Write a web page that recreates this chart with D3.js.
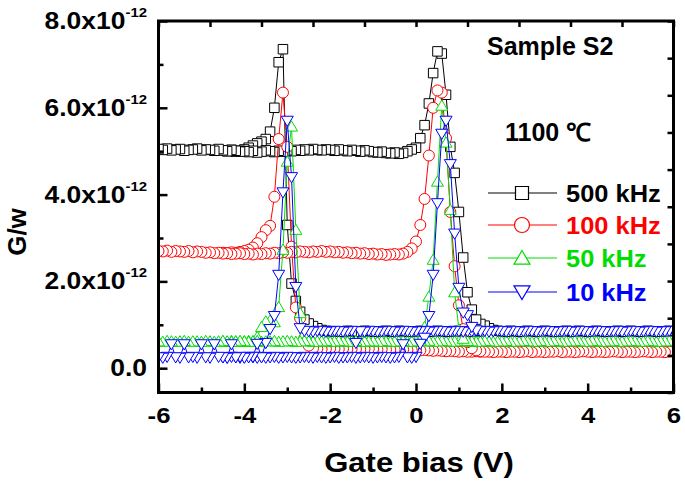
<!DOCTYPE html>
<html><head><meta charset="utf-8">
<script src="https://cdn.jsdelivr.net/npm/d3@7"></script>
<style>body{margin:0;background:#fff}svg{display:block}</style>
</head><body>
<svg id="chart" width="685" height="488"></svg>
<script>
// ---------- DATA (G/w in units of 1e-12) ----------
// Up-sweep branch: gate bias from -6 V to +6 V, 0.1 V step
const upStart = -6, upStep = 0.1;
const up500 = [
5.05,5.03,5.06,5.02,5.04,5.05,5.01,5.03,5.04,5.06,
5.02,5.04,5.03,5.01,5.05,5.02,5.00,5.03,5.01,4.99,
5.00,4.98,5.01,4.97,4.99,5.02,5.00,4.98,5.01,4.99,
5.02,5.00,5.03,5.01,5.04,5.02,5.05,5.03,5.02,5.04,
5.03,5.01,5.04,5.02,5.00,5.03,5.01,4.99,5.02,5.00,
4.98,4.97,4.99,4.96,4.95,4.97,4.94,4.96,5.00,5.04,
5.08,5.30,5.60,6.10,6.80,7.30,7.25,6.30,5.10,4.50,
3.60,2.55,1.75,1.35,1.12,1.02,0.98,0.92,0.88,0.86,
0.85,0.84,0.86,0.85,0.84,0.85,0.86,0.85,0.84,0.85,
0.86,0.85,0.84,0.85,0.85,0.86,0.84,0.85,0.86,0.85,
0.84,0.85,0.86,0.85,0.84,0.85,0.85,0.86,0.84,0.85,
0.86,0.85,0.84,0.85,0.86,0.85,0.84,0.85,0.85,0.86,
0.85];
const up100 = [
2.70,2.69,2.71,2.68,2.70,2.69,2.68,2.70,2.67,2.69,
2.68,2.66,2.67,2.65,2.66,2.64,2.65,2.63,2.64,2.65,
2.63,2.64,2.62,2.64,2.63,2.65,2.64,2.66,2.65,2.67,
2.66,2.68,2.67,2.69,2.68,2.67,2.69,2.68,2.70,2.68,
2.69,2.67,2.68,2.66,2.67,2.65,2.66,2.64,2.65,2.63,
2.64,2.62,2.63,2.61,2.62,2.63,2.62,2.64,2.68,2.76,
2.92,3.30,3.90,4.90,6.00,6.40,6.35,5.30,3.60,2.35,
1.45,0.90,0.60,0.46,0.41,0.39,0.38,0.38,0.37,0.38,
0.38,0.37,0.38,0.38,0.37,0.38,0.39,0.37,0.38,0.38,
0.37,0.38,0.38,0.39,0.37,0.38,0.38,0.37,0.38,0.39,
0.38,0.37,0.38,0.38,0.37,0.38,0.39,0.38,0.37,0.38,
0.38,0.37,0.38,0.39,0.38,0.37,0.38,0.38,0.37,0.38,
0.38];
const up50 = [
0.62,0.61,0.63,0.62,0.61,0.62,0.63,0.61,0.62,0.62,
0.61,0.63,0.62,0.61,0.62,0.63,0.62,0.61,0.62,0.63,
0.62,0.61,0.62,0.63,0.61,0.62,0.62,0.63,0.61,0.62,
0.63,0.62,0.61,0.62,0.63,0.62,0.61,0.62,0.62,0.63,
0.61,0.62,0.63,0.62,0.61,0.62,0.63,0.61,0.62,0.62,
0.62,0.61,0.63,0.62,0.61,0.62,0.62,0.63,0.61,0.62,
0.62,0.64,0.95,1.65,2.50,4.30,6.05,5.20,3.65,1.75,
0.90,0.68,0.63,0.62,0.61,0.62,0.63,0.62,0.61,0.62,
0.62,0.63,0.61,0.62,0.62,0.63,0.62,0.61,0.62,0.63,
0.61,0.62,0.63,0.62,0.61,0.62,0.62,0.63,0.62,0.61,
0.62,0.63,0.62,0.61,0.62,0.62,0.63,0.61,0.62,0.62,
0.63,0.62,0.61,0.62,0.63,0.62,0.61,0.62,0.62,0.63,
0.62];
const up10 = [
0.25,0.24,0.26,0.55,0.25,0.24,0.55,0.25,0.26,0.24,
0.55,0.25,0.24,0.55,0.26,0.25,0.24,0.55,0.25,0.26,
0.24,0.25,0.26,0.56,0.25,0.24,0.25,0.26,0.24,0.25,
0.26,0.25,0.24,0.25,0.26,0.25,0.24,0.26,0.25,0.24,
0.25,0.26,0.24,0.25,0.25,0.26,0.24,0.25,0.26,0.25,
0.24,0.25,0.26,0.25,0.24,0.25,0.26,0.55,0.25,0.24,
0.26,0.56,0.70,1.20,2.15,3.80,5.40,5.70,4.70,3.10,
1.85,1.28,1.22,0.95,0.87,0.85,0.86,0.84,0.85,0.86,
0.85,0.84,0.86,0.85,0.84,0.85,0.86,0.85,0.84,0.85,
0.86,0.85,0.84,0.85,0.85,0.86,0.84,0.85,0.86,0.85,
0.84,0.85,0.86,0.85,0.84,0.85,0.85,0.86,0.84,0.85,
0.86,0.85,0.84,0.85,0.86,0.85,0.84,0.85,0.85,0.86,
0.85];

// Return-sweep branch: listed from -4.5 V to +1.5 V, 0.1 V step
const downStart = -4.5, downStep = 0.1;
const down500 = [
5.02,5.00,5.03,4.99,5.01,5.04,5.08,5.13,5.18,5.22,
5.28,5.45,6.00,7.05,7.35,3.30,1.95,1.55,1.30,1.12,
1.03,0.97,0.92,0.88,0.86,0.85,0.85,0.84,0.85,0.86,
0.85,0.84,0.85,0.86,0.85,0.84,0.85,0.85,0.86,0.84,
0.85,0.86,0.85,0.84,0.85,0.85,0.86,0.85,0.84,0.85,
0.86,0.85,0.84,0.85,0.85,0.86,0.85,0.84,0.85,0.86,
0.85];
const down100 = [
2.66,2.65,2.67,2.66,2.68,2.70,2.73,2.78,2.88,3.02,
3.18,3.28,3.95,5.28,6.35,5.10,2.80,1.40,1.15,0.70,
0.52,0.46,0.45,0.44,0.45,0.46,0.45,0.44,0.45,0.44,
0.45,0.44,0.43,0.44,0.45,0.44,0.43,0.44,0.43,0.42,
0.43,0.42,0.43,0.42,0.41,0.42,0.41,0.42,0.41,0.40,
0.41,0.40,0.39,0.40,0.39,0.38,0.39,0.38,0.38,0.39,
0.38];
const down50 = [
0.62,0.61,0.63,0.62,0.61,0.62,0.63,0.62,0.72,0.95,
1.08,1.10,1.06,1.41,2.73,4.76,5.57,3.19,1.27,0.80,
0.66,0.62,0.61,0.62,0.63,0.62,0.61,0.62,0.62,0.63,
0.62,0.61,0.62,0.63,0.62,0.62,0.61,0.62,0.63,0.62,
0.61,0.62,0.62,0.63,0.62,0.61,0.62,0.62,0.63,0.61,
0.62,0.63,0.62,0.61,0.62,0.62,0.63,0.62,0.61,0.62,
0.62];
const down10 = [
0.25,0.24,0.26,0.25,0.24,0.25,0.26,0.25,0.24,0.26,
0.58,0.90,1.20,2.15,4.05,5.70,4.40,1.87,0.92,0.86,
0.85,0.84,0.86,0.85,0.84,0.85,0.86,0.85,0.84,0.85,
0.86,0.58,0.85,0.84,0.86,0.85,0.84,0.85,0.86,0.85,
0.84,0.85,0.86,0.85,0.84,0.85,0.85,0.86,0.84,0.85,
0.86,0.85,0.84,0.85,0.86,0.85,0.84,0.85,0.85,0.86,
0.85];

const seriesNames  = ["500 kHz", "100 kHz", "50 kHz", "10 kHz"];
const seriesColors = ["#000000", "#ff0000", "#00dd00", "#0000ff"];
const seriesShapes = ["square", "circle", "triUp", "triDown"];
const upData   = [up500, up100, up50, up10];
const downData = [down500, down100, down50, down10];

const xMajorTicks = [-6, -4, -2, 0, 2, 4, 6];
const xMinorTicks = [-5, -3, -1, 1, 3, 5];
const yMajorTicks = [0, 2, 4, 6, 8];
const yMinorTicks = [1, 3, 5, 7];
const yExponent = "-12";
const xTitle = "Gate bias (V)";
const yTitle = "G/w";
const note1 = "Sample S2";
const note2 = "1100 \u2103";

// ---------- LAYOUT ----------
const FONT = "'Liberation Sans', Arial, Helvetica, sans-serif";
const L = 158.5, R = 673.5, T = 21, B = 392.5;
const svg = d3.select("#chart");
const x = d3.scaleLinear().domain([-6, 6]).range([L, R]);
const y = d3.scaleLinear().domain([-0.56, 8]).range([B, T]);

svg.append("defs").append("clipPath").attr("id", "plotclip")
  .append("rect").attr("x", L).attr("y", T).attr("width", R - L).attr("height", B - T);

function shapePath(shape, s) {
  if (shape === "square") return `M${-s/2},${-s/2}h${s}v${s}h${-s}Z`;
  if (shape === "circle") { const r = s/2; return `M${-r},0a${r},${r} 0 1,0 ${2*r},0a${r},${r} 0 1,0 ${-2*r},0Z`; }
  const h = s * 0.85;
  if (shape === "triUp") return `M0,${-h*0.55}L${s/2},${h*0.45}L${-s/2},${h*0.45}Z`;
  return `M0,${h*0.55}L${s/2},${-h*0.45}L${-s/2},${-h*0.45}Z`;
}
const markerSize = [9.5, 11, 12, 12];
const legendMarkerSize = [13, 15, 16, 16];

const plot = svg.append("g").attr("clip-path", "url(#plotclip)");
const line = d3.line().x(d => x(d[0])).y(d => y(d[1]));

seriesNames.forEach((name, k) => {
  const up = upData[k].map((v, i) => [upStart + i * upStep, v]);
  const down = downData[k].map((v, i) => [downStart + i * downStep, v]);
  const g = plot.append("g");
  [up, down].forEach(pts => {
    g.append("path").attr("d", line(pts)).attr("fill", "none")
      .attr("stroke", seriesColors[k]).attr("stroke-width", 1);
  });
  [down, up].forEach(pts => {
    g.selectAll(null).data(pts.slice().reverse()).enter().append("path")
      .attr("d", shapePath(seriesShapes[k], markerSize[k]))
      .attr("transform", d => `translate(${x(d[0])},${y(d[1])})`)
      .attr("fill", "#fff").attr("stroke", seriesColors[k]).attr("stroke-width", 1);
  });
});

// ---------- AXES ----------
function styleAxis(g) {
  g.select(".domain").remove();
  g.selectAll(".tick line").attr("stroke", "#000").attr("stroke-width", 2.5);
}
const xAx = svg.append("g").attr("transform", `translate(0,${B})`)
  .call(d3.axisBottom(x).tickValues(xMajorTicks).tickSizeInner(-9).tickSizeOuter(0)
    .tickPadding(14).tickFormat(d => String(d)));
styleAxis(xAx);
xAx.selectAll(".tick text").attr("font-family", FONT).attr("font-weight", "bold")
  .attr("font-size", 23).attr("fill", "#000").attr("transform", "scale(1.12,1)");
svg.append("g").attr("transform", `translate(0,${B})`)
  .call(d3.axisBottom(x).tickValues(xMinorTicks).tickSize(-5).tickFormat(""))
  .call(styleAxis);

const yAx = svg.append("g").attr("transform", `translate(${L},0)`)
  .call(d3.axisLeft(y).tickValues(yMajorTicks).tickSize(-9).tickFormat(""));
styleAxis(yAx);
svg.append("g").attr("transform", `translate(${L},0)`)
  .call(d3.axisLeft(y).tickValues(yMinorTicks).tickSize(-5).tickFormat(""))
  .call(styleAxis);

// y tick labels with superscript exponents
yMajorTicks.forEach(v => {
  const t = svg.append("g").attr("transform", `translate(147,${y(v) + 8}) scale(1.15,1)`)
    .append("text").attr("text-anchor", "end").attr("font-family", FONT)
    .attr("font-weight", "bold").attr("font-size", 23).attr("fill", "#000");
  if (v === 0) { t.text(d3.format(".1f")(v)); }
  else {
    t.append("tspan").text(d3.format(".1f")(v) + "x10");
    t.append("tspan").attr("font-size", 13).attr("dy", -12).text(yExponent);
  }
});

// opposite axes (ticks only)
const tenth = d3.scaleLinear().domain([0, 10]);
svg.append("g").attr("transform", `translate(0,${T})`)
  .call(d3.axisTop(tenth.copy().range([L, R])).ticks(10).tickSize(-6).tickFormat(""))
  .call(styleAxis);
svg.append("g").attr("transform", `translate(${R},0)`)
  .call(d3.axisRight(tenth.copy().range([B, T])).ticks(10).tickSize(-6).tickFormat(""))
  .call(styleAxis);

// frame
svg.append("rect").attr("x", L).attr("y", T).attr("width", R - L).attr("height", B - T)
  .attr("fill", "none").attr("stroke", "#000").attr("stroke-width", 3);

// titles
svg.append("g").attr("transform", `translate(419,472) scale(1.15,1)`)
  .append("text").attr("text-anchor", "middle").attr("font-family", FONT)
  .attr("font-weight", "bold").attr("font-size", 27).text(xTitle);
svg.append("text").attr("transform", "translate(26,232) rotate(-90)")
  .attr("text-anchor", "middle").attr("font-family", FONT)
  .attr("font-weight", "bold").attr("font-size", 26).text(yTitle);

svg.append("text").attr("x", 487).attr("y", 55).attr("font-family", FONT)
  .attr("font-weight", "bold").attr("font-size", 25).text(note1);
svg.append("text").attr("x", 505).attr("y", 141).attr("font-family", FONT)
  .attr("font-weight", "bold").attr("font-size", 25).text(note2);

// legend
const legendRows = [193, 225, 258, 292];
seriesNames.forEach((name, k) => {
  const ly = legendRows[k];
  svg.append("line").attr("x1", 488).attr("x2", 557).attr("y1", ly).attr("y2", ly)
    .attr("stroke", seriesColors[k]).attr("stroke-width", 1);
  svg.append("path").attr("d", shapePath(seriesShapes[k], legendMarkerSize[k]))
    .attr("transform", `translate(522,${ly})`).attr("fill", "#fff")
    .attr("stroke", seriesColors[k]).attr("stroke-width", 1.2);
  svg.append("g").attr("transform", `translate(566,${ly + 9}) scale(1.06,1)`)
    .append("text").attr("font-family", FONT).attr("font-weight", "bold")
    .attr("font-size", 24).attr("fill", k === 0 ? "#000" : seriesColors[k]).text(name);
});
</script>
</body></html>
